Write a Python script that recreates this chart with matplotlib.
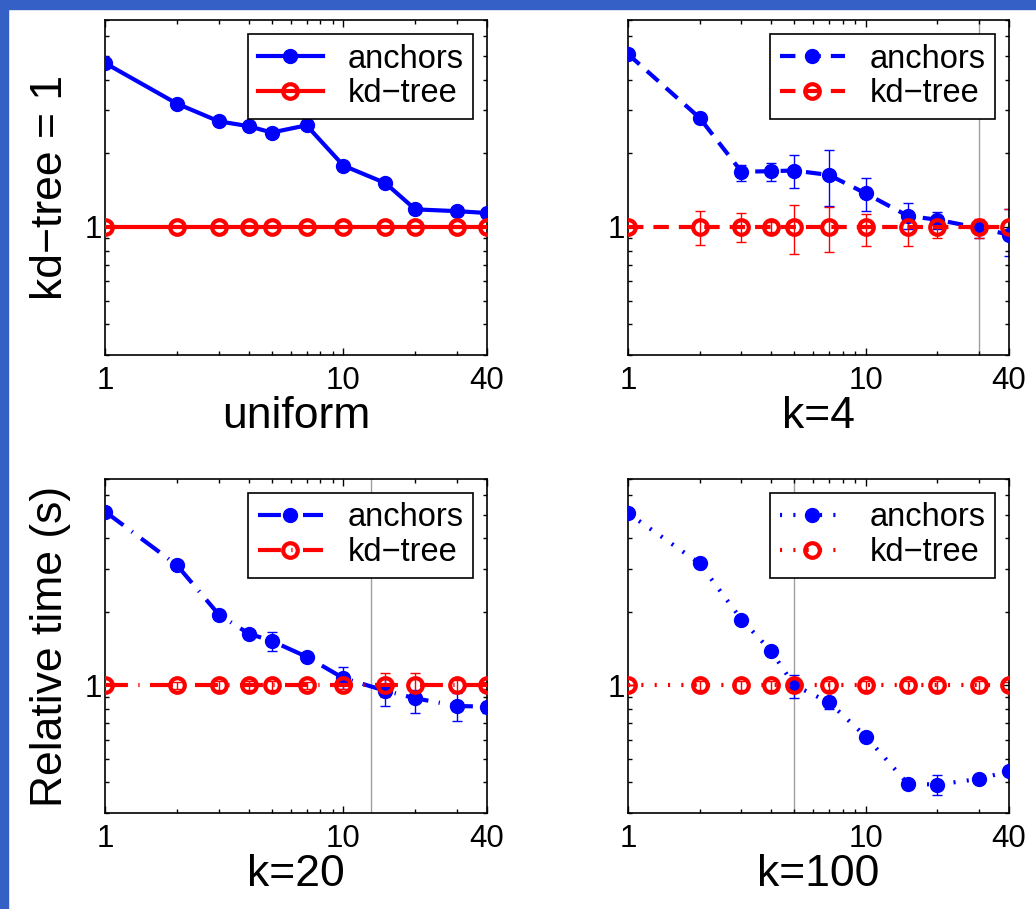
import numpy as np
import matplotlib
matplotlib.use('Agg')
import matplotlib.pyplot as plt
from matplotlib.ticker import FixedLocator, FixedFormatter, LogLocator, NullFormatter
from matplotlib.patches import Rectangle

plt.rcParams['font.family'] = ['Liberation Sans', 'DejaVu Sans']

# number of anchors / leaf size on the x axis
n_vals = [1, 2, 3, 4, 5, 7, 10, 15, 20, 30, 40]

# uniform data (no spread)
uni_anchors = [4.67, 3.19, 2.70, 2.58, 2.43, 2.60, 1.78, 1.51, 1.18, 1.16, 1.14]

# k=4
k4_anchors    = [5.08, 2.79, 1.68, 1.69, 1.70, 1.63, 1.37, 1.11, 1.07, 0.99, 0.93]
k4_anchors_lo = [5.08, 2.72, 1.54, 1.54, 1.44, 1.22, 1.165, 0.98, 0.98, 0.90, 0.76]
k4_anchors_hi = [5.08, 2.86, 1.79, 1.83, 1.96, 2.06, 1.59, 1.25, 1.15, 1.05, 1.18]
k4_kd_lo = [1.0, 0.845, 0.872, 0.957, 0.772, 0.789, 0.839, 0.839, 0.90, 0.90, 0.894]
k4_kd_hi = [1.0, 1.165, 1.143, 1.05, 1.23, 1.21, 1.13, 1.13, 1.11, 1.08, 1.18]

# k=20
k20_anchors    = [5.15, 3.11, 1.95, 1.63, 1.52, 1.31, 1.07, 0.95, 0.885, 0.823, 0.818]
k20_anchors_lo = [5.15, 3.11, 1.95, 1.60, 1.38, 1.29, 0.966, 0.823, 0.769, 0.717, 0.771]
k20_anchors_hi = [5.15, 3.11, 1.95, 1.66, 1.65, 1.33, 1.19, 1.058, 0.957, 0.928, 0.847]
k20_kd_lo = [1.0, 0.97, 0.96, 0.96, 0.96, 0.97, 0.97, 0.90, 0.877, 0.95, 0.97]
k20_kd_hi = [1.0, 1.03, 1.04, 1.04, 1.04, 1.03, 1.03, 1.125, 1.125, 1.05, 1.03]

# k=100
k100_anchors    = [5.07, 3.16, 1.86, 1.38, 1.00, 0.852, 0.617, 0.396, 0.392, 0.414, 0.445]
k100_anchors_lo = [5.07, 3.16, 1.86, 1.38, 0.885, 0.80, 0.61, 0.39, 0.357, 0.41, 0.44]
k100_anchors_hi = [5.07, 3.16, 1.86, 1.38, 1.10, 0.90, 0.625, 0.40, 0.431, 0.42, 0.45]
k100_kd_lo = [1.0, 0.96, 0.96, 0.96, 0.96, 0.96, 0.96, 0.96, 0.96, 0.96, 0.97]
k100_kd_hi = [1.0, 1.04, 1.04, 1.04, 1.04, 1.04, 1.04, 1.04, 1.04, 1.04, 1.03]

# where anchors become faster than kd-tree
cross_k4, cross_k20, cross_k100 = 30, 13, 5

BLUE = (0, 0, 1)
RED = (1, 0, 0)


def yerr(center, lo, hi):
    c = np.array(center)
    return [c - np.array(lo), np.array(hi) - c]


def panel(ax, anchors, anc_lo, anc_hi, kd_lo, kd_hi, dashes, cross, xlabel, ylabel=None):
    x = np.array(n_vals)
    kd = np.ones(len(x))
    if anc_lo is not None:
        ax.errorbar(x, anchors, yerr=yerr(anchors, anc_lo, anc_hi), fmt='none',
                    ecolor=BLUE, elinewidth=1, capsize=3.5, capthick=1, zorder=2)
        ax.errorbar(x, kd, yerr=yerr(kd, kd_lo, kd_hi), fmt='none',
                    ecolor=RED, elinewidth=1, capsize=3.5, capthick=1, zorder=2.5)
    style = {} if dashes is None else {'dashes': dashes}
    l1, = ax.plot(x, anchors, color=BLUE, lw=3, marker='o', ms=10,
                  mfc=BLUE, mec=BLUE, zorder=3, **style)
    l2, = ax.plot(x, kd, color=RED, lw=3, marker='o', ms=10.5, mew=3,
                  mfc='none', mec=RED, zorder=3.5, **style)
    if cross is not None:
        ax.axvline(cross, color='#a0a0a0', lw=1, zorder=1)

    ax.set_xscale('log')
    ax.set_yscale('log')
    ax.set_xlim(1, 40)
    ax.set_ylim(0.3, 7)
    ax.xaxis.set_major_locator(FixedLocator([1, 10, 40]))
    ax.xaxis.set_major_formatter(FixedFormatter(['1', '10', '40']))
    ax.xaxis.set_minor_locator(LogLocator(base=10, subs=np.arange(2, 10), numticks=20))
    ax.xaxis.set_minor_formatter(NullFormatter())
    ax.yaxis.set_major_locator(FixedLocator([1]))
    ax.yaxis.set_major_formatter(FixedFormatter(['1']))
    ax.yaxis.set_minor_locator(LogLocator(base=10, subs=np.arange(2, 10), numticks=20))
    ax.yaxis.set_minor_formatter(NullFormatter())
    ax.tick_params(which='both', direction='in', top=True, right=True,
                   labelsize=22.5, width=1, color='black')
    ax.tick_params(which='major', length=5)
    ax.tick_params(which='minor', length=3)
    ax.tick_params(axis='x', pad=8)
    ax.tick_params(axis='y', pad=2)
    for s in ax.spines.values():
        s.set_linewidth(1.2)

    ax.set_xlabel(xlabel, fontsize=32, labelpad=0)
    if ylabel:
        ax.set_ylabel(ylabel, fontsize=32, labelpad=10)

    leg = ax.legend([l1, l2], ['anchors', 'kd\u2212tree'], loc='upper right',
                    fontsize=23.5, fancybox=False, framealpha=1, edgecolor='black',
                    borderpad=0.3, labelspacing=0.12, handlelength=2.0,
                    handletextpad=0.75, borderaxespad=0.42)
    leg.get_frame().set_linewidth(1.2)


fig = plt.figure(figsize=(10.36, 9.09), dpi=100)

W, H = 1036, 909
ax1 = fig.add_axes([105 / W, 1 - 355 / H, 382 / W, 335 / H])
ax2 = fig.add_axes([628 / W, 1 - 355 / H, 381 / W, 335 / H])
ax3 = fig.add_axes([105 / W, 1 - 813 / H, 382 / W, 334 / H])
ax4 = fig.add_axes([628 / W, 1 - 813 / H, 381 / W, 334 / H])

panel(ax1, uni_anchors, None, None, None, None, None, None, 'uniform', 'kd\u2212tree = 1')
panel(ax2, k4_anchors, k4_anchors_lo, k4_anchors_hi, k4_kd_lo, k4_kd_hi,
      (3.7, 2.4), cross_k4, 'k=4')
panel(ax3, k20_anchors, k20_anchors_lo, k20_anchors_hi, k20_kd_lo, k20_kd_hi,
      (5.5, 2.5, 0.3, 2.5), cross_k20, 'k=20', 'Relative time (s)')
panel(ax4, k100_anchors, k100_anchors_lo, k100_anchors_hi, k100_kd_lo, k100_kd_hi,
      (0.5, 2.7), cross_k100, 'k=100')

# slide frame: blue bars along the top and left edges
fig.add_artist(Rectangle((0, 1 - 9 / H), 1, 9 / H, transform=fig.transFigure,
                         color='#3560C5', zorder=10))
fig.add_artist(Rectangle((0, 0), 8 / W, 1, transform=fig.transFigure,
                         color='#3560C5', zorder=10))

fig.savefig('out.png', dpi=100)
